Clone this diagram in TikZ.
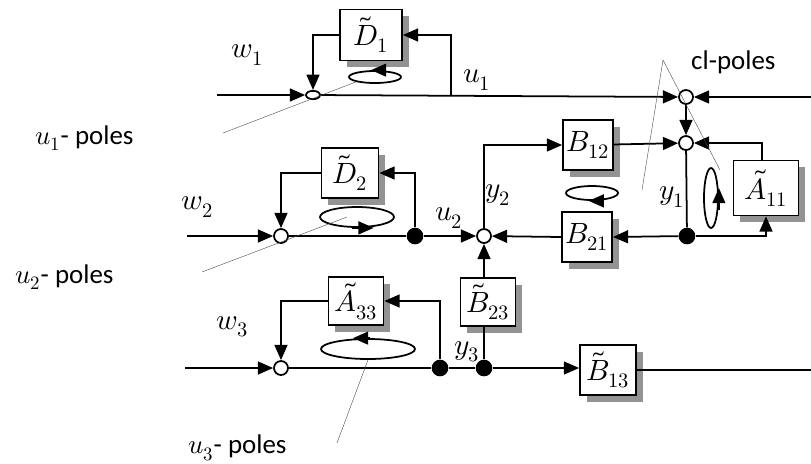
\documentclass[tikz,border=0pt]{standalone}
\usepackage{fontspec}
\usepackage{unicode-math}
\usetikzlibrary{arrows.meta, shapes.geometric, shadows}
\newfontfamily\polefont{Carlito}

\tikzset{
  blk/.style={draw, fill=white, line width=1.5pt, inner sep=0pt,
              minimum width=1.65cm, minimum height=1.5cm,
              font=\fontsize{25}{27}\selectfont,
              drop shadow={shadow xshift=0.2cm, shadow yshift=-0.2cm, fill=gray!85, opacity=1}},
  sumpt/.style={circle, draw, fill=white, line width=1.5pt, inner sep=0pt, minimum size=0.42cm},
  dotpt/.style={circle, fill=black, inner sep=0pt, minimum size=0.5cm},
  sig/.style={line width=1.5pt, -{Triangle[length=13pt, width=11pt]}},
  wire/.style={line width=1.5pt},
  loopring/.style={ellipse, draw, line width=1.5pt, inner sep=0pt},
  pole/.style={draw=gray!60!black, line width=0.35pt},
  lbl/.style={font=\fontsize{25}{27}\selectfont, inner sep=0pt},
  polelbl/.style={font=\polefont\fontsize{23}{26}\selectfont, inner sep=0pt}
}

\begin{document}
\begin{tikzpicture}[x=0.03cm, y=-0.03cm]
  \useasboundingbox (0,0) rectangle (811,463);

  % blocks
  \node[blk, minimum width=1.86cm, minimum height=1.53cm] (D1) at (371,35) {$\tilde{D}_1$};
  \node[blk, minimum width=1.71cm] (D2) at (350,173) {$\tilde{D}_2$};
  \node[blk, minimum height=1.44cm] (A33) at (356,301) {$\tilde{A}_{33}$};
  \node[blk, minimum height=1.44cm] (B23) at (488,302) {$\tilde{B}_{23}$};
  \node[blk, minimum width=1.5cm] (B12) at (588,145) {$B_{12}$};
  \node[blk, minimum width=1.5cm] (B21) at (587,237) {$B_{21}$};
  \node[blk, minimum width=1.95cm, minimum height=1.65cm] (A11) at (766,188) {$\tilde{A}_{11}$};
  \node[blk, minimum width=1.68cm] (B13) at (608,370) {$\tilde{B}_{13}$};

  % junctions
  \node[ellipse, draw, fill=white, line width=1.5pt, inner sep=0pt,
        minimum width=0.42cm, minimum height=0.25cm] (sj1) at (313,95) {};
  \node[sumpt] (cl1) at (686,97) {};
  \node[sumpt] (cl2) at (686,143) {};
  \node[sumpt] (sj2a) at (281,236) {};
  \node[sumpt] (sj2) at (484,236) {};
  \node[sumpt] (sj3) at (281,368) {};
  \node[dotpt] (dU2) at (415,236) {};
  \node[dotpt] (dY1) at (687,236) {};
  \node[dotpt] (dA) at (440,368) {};
  \node[dotpt] (dY3) at (484,368) {};

  \coordinate (w1in) at (217,95);
  \coordinate (w2in) at (187,236);
  \coordinate (w3in) at (185,368);
  \coordinate (t1) at (451,96);
  \coordinate (rin) at (811,97);
  \coordinate (out3) at (811,370);

  % loop 1
  \draw[sig] (w1in) -- (sj1);
  \draw[sig] (sj1) -- (cl1);
  \draw[sig] (D1.west) -| (sj1.north);
  \draw[sig] (t1) |- (D1.east);
  \draw[sig] (rin) -- (cl1);
  \draw[sig] (cl1) -- (cl2);
  \draw[sig] (B12) -- (cl2);
  \draw[sig] ([xshift=-0.12cm]A11.north) |- (cl2.east);
  \draw[wire] (cl2) -- (dY1);
  \draw[sig] (dY1) -- (B21.east);
  \draw[sig] (dY1) -| (A11.south);

  % loop 2
  \draw[sig] (w2in) -- (sj2a);
  \draw[wire] (sj2a) -- (dU2);
  \draw[sig] (dU2) -- (sj2);
  \draw[sig] (dU2) |- (D2.east);
  \draw[sig] (D2.west) -| (sj2a.north);
  \draw[sig] (B21.west) -- (sj2);
  \draw[sig] (sj2) |- (B12.west);
  \draw[sig] (B23.north -| sj2) -- (sj2);

  % loop 3
  \draw[sig] (w3in) -- (sj3);
  \draw[wire] (sj3) -- (dA) -- (dY3);
  \draw[sig] (dY3) -- (dY3 -| B13.west);
  \draw[wire] (B13.east |- out3) -- (out3);
  \draw[wire] (dY3) -- (B23.south -| dY3);
  \draw[sig] (dA) |- (A33.east);
  \draw[sig] (A33.west) -| (sj3.north);

  % pole rings
  \node[loopring, minimum width=1.56cm, minimum height=0.36cm] (ring1) at (375,77) {};
  \node[loopring, minimum width=2.22cm, minimum height=0.6cm] (ring2) at (357,217) {};
  \node[loopring, minimum width=2.82cm, minimum height=0.6cm] (ring3) at (368,349) {};
  \node[loopring, minimum width=1.56cm, minimum height=0.42cm] (ringB) at (592,193) {};
  \node[loopring, minimum width=0.42cm, minimum height=1.8cm] (ringA) at (711,198) {};
  \draw[sig] ([xshift=0.25cm]ring1.north) -- ([xshift=-0.12cm]ring1.north);
  \draw[sig] ([xshift=-0.15cm]ring2.south) -- ([xshift=0.5cm]ring2.south);
  \draw[sig] ([xshift=0.05cm]ring3.north) -- ([xshift=-0.45cm]ring3.north);
  \draw[sig] ([xshift=0.25cm]ringB.south) -- ([xshift=-0.1cm]ringB.south);
  \draw[sig] ([yshift=-0.35cm]ringA.east) -- ([yshift=0.3cm]ringA.east);

  % pole labels
  \node[polelbl, anchor=west] (p1) at (35,138) {$u_1$- poles};
  \node[polelbl, anchor=west] (p2) at (15,277) {$u_2$- poles};
  \node[polelbl, anchor=west] (p3) at (188,448) {$u_3$- poles};
  \node[polelbl, anchor=west] (pcl) at (691,62) {cl-poles};
  \coordinate (p1a) at (223,133);
  \coordinate (p2a) at (202,272);
  \coordinate (p3a) at (337,443);
  \coordinate (apex) at (663,60);
  \coordinate (clA) at (642,190);
  \coordinate (clB) at (720,170);
  \draw[pole] (p1a) -- (ring1.south west);
  \draw[pole] (p2a) -- ([xshift=-0.3cm]ring2.center);
  \draw[pole] (p3a) -- (ring3.south);
  \draw[pole] (clA) -- (apex) -- (clB);

  % signal labels
  \node[lbl] (w1) at (247,55) {$w_1$};
  \node[lbl] (w2) at (197,207) {$w_2$};
  \node[lbl] (w3) at (232,327) {$w_3$};
  \node[lbl] (u1) at (477,80) {$u_1$};
  \node[lbl] (u2) at (449,218) {$u_2$};
  \node[lbl] (y1) at (672,197) {$y_1$};
  \node[lbl] (y2) at (498,195) {$y_2$};
  \node[lbl] (y3) at (467,352) {$y_3$};
\end{tikzpicture}
\end{document}
